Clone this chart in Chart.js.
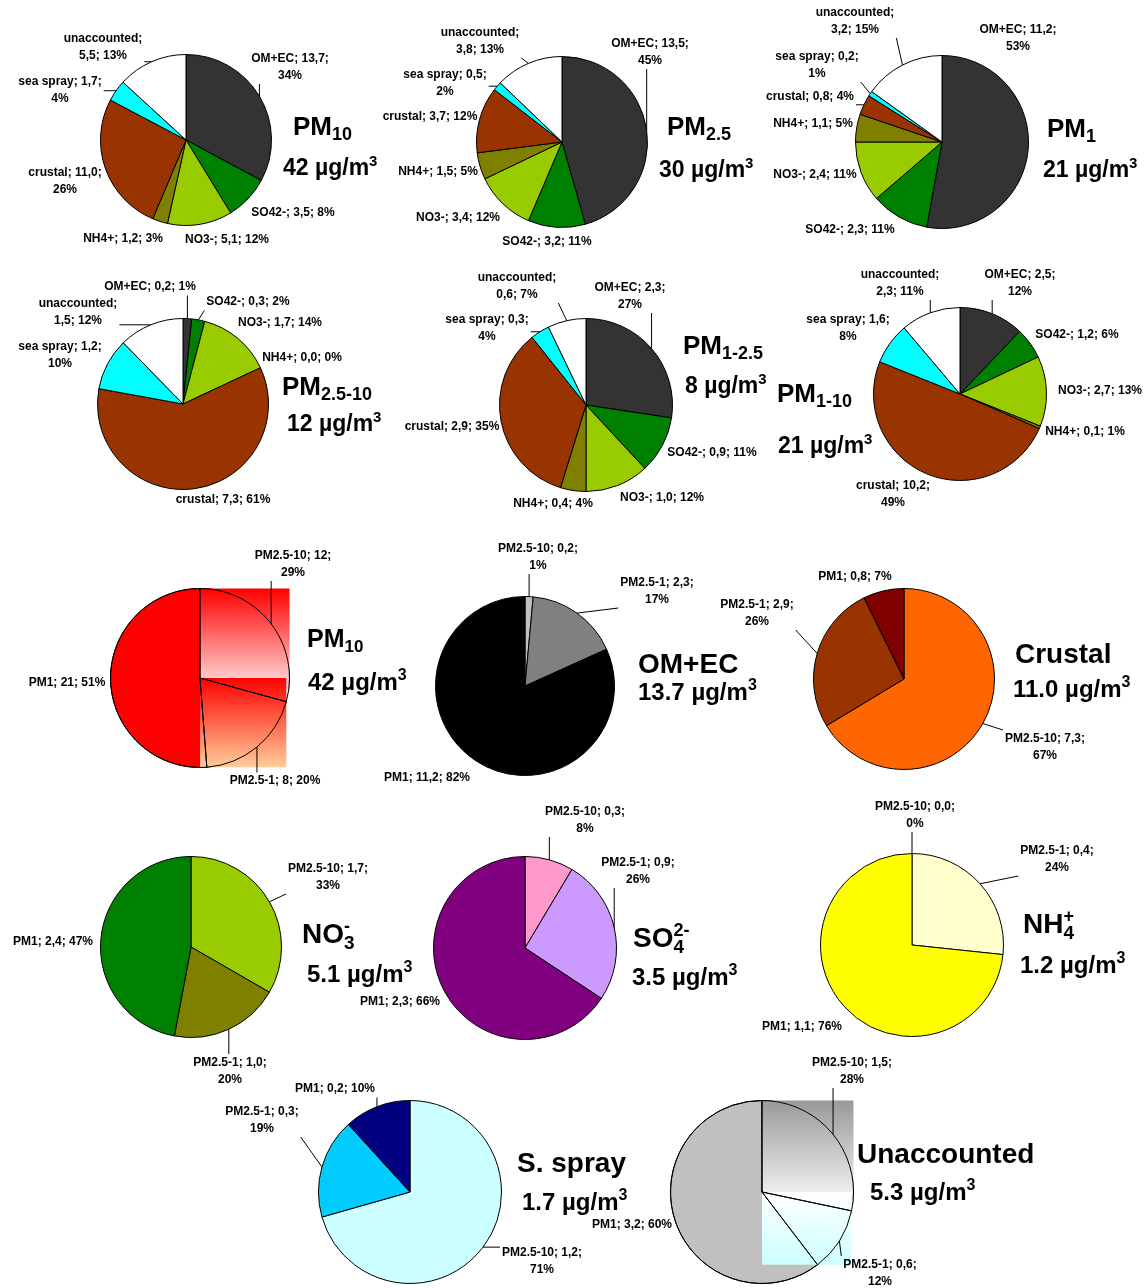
<!DOCTYPE html>
<html>
<head>
<meta charset="utf-8">
<script src="https://cdn.jsdelivr.net/npm/chart.js@4.4.1/dist/chart.umd.min.js"></script>
<style>
  body { margin: 0; background: #fff; }
  #wrap { position: relative; width: 1146px; height: 1288px; overflow: hidden; background: #fff; }
  #wrap canvas { position: absolute; left: 0; top: 0; }
</style>
</head>
<body>
<div id="wrap"></div>
<script>
// chemical composition (µg/m3) per size range
const species = ['OM+EC', 'SO42-', 'NO3-', 'NH4+', 'crustal', 'sea spray', 'unaccounted'];
const pm10 = [13.7, 3.5, 5.1, 1.2, 11.0, 1.7, 5.5];
const pm10Pct = [34, 8, 12, 3, 26, 4, 13];
const pm25 = [13.5, 3.2, 3.4, 1.5, 3.7, 0.5, 3.8];
const pm25Pct = [45, 11, 12, 5, 12, 2, 13];
const pm1 = [11.2, 2.3, 2.4, 1.1, 0.8, 0.2, 3.2];
const pm1Pct = [53, 11, 11, 5, 4, 1, 15];
const pm25to10 = [0.2, 0.3, 1.7, 0.0, 7.3, 1.2, 1.5];
const pm25to10Pct = [1, 2, 14, 0, 61, 10, 12];
const pm1to25 = [2.3, 0.9, 1.0, 0.4, 2.9, 0.3, 0.6];
const pm1to25Pct = [27, 11, 12, 4, 35, 4, 7];
const pm1to10 = [2.5, 1.2, 2.7, 0.1, 10.2, 1.6, 2.3];
const pm1to10Pct = [12, 6, 13, 1, 49, 8, 11];

// size split of each component
const fractions = ['PM2.5-10', 'PM2.5-1', 'PM1'];
const massBySize = [12, 8, 21];
const massBySizePct = [29, 20, 51];
const omecBySize = [0.2, 2.3, 11.2];
const omecBySizePct = [1, 17, 82];
const crustalBySize = [7.3, 2.9, 0.8];
const crustalBySizePct = [67, 26, 7];
const no3BySize = [1.7, 1.0, 2.4];
const no3BySizePct = [33, 20, 47];
const so4BySize = [0.3, 0.9, 2.3];
const so4BySizePct = [8, 26, 66];
const nh4BySize = [0.0, 0.4, 1.1];
const nh4BySizePct = [0, 24, 76];
const seaBySize = [1.2, 0.3, 0.2];
const seaBySizePct = [71, 19, 10];
const unaccBySize = [1.5, 0.6, 3.2];
const unaccBySizePct = [28, 12, 60];

const W = 1146, H = 1288;
const FONT = '"Liberation Sans", Arial, sans-serif';
const speciesColors = ['#333333', '#008000', '#99CC00', '#808000', '#993300', '#00FFFF', '#FFFFFF'];

function fmt(v, dec) {
  return v.toFixed(dec).replace('.', ',');
}

function drawRuns(ctx, runs, x, y, size) {
  let cx = x;
  runs.forEach(r => {
    let fs = size, dy = 0;
    if (r.sub) { fs = Math.round(size * 0.68); dy = size * 0.2; }
    if (r.sup) { fs = Math.round(size * 0.66); dy = -size * 0.4; }
    ctx.font = 'bold ' + fs + 'px ' + FONT;
    ctx.fillText(r.t, cx, y + dy);
    if (!r.stack) cx += ctx.measureText(r.t).width;
  });
}

// bounding box of a pie sector, centre included
function sectorBox(a) {
  const pts = [[a.x, a.y]];
  const add = t => pts.push([a.x + Math.cos(t) * a.outerRadius, a.y + Math.sin(t) * a.outerRadius]);
  add(a.startAngle);
  add(a.endAngle);
  for (let k = -4; k <= 8; k++) {
    const t = k * Math.PI / 2;
    if (t > a.startAngle && t < a.endAngle) add(t);
  }
  const xs = pts.map(p => p[0]), ys = pts.map(p => p[1]);
  return { x0: Math.min(...xs), x1: Math.max(...xs), y0: Math.min(...ys), y1: Math.max(...ys) };
}

// data labels with leader lines, plus the big title next to each pie
const pieLabels = {
  id: 'pieLabels',
  afterDraw(chart, args, opts) {
    const ctx = chart.ctx;
    const arcs = chart.getDatasetMeta(0).data;
    const ds = chart.data.datasets[0];
    ctx.save();
    ctx.fillStyle = '#000';
    ctx.strokeStyle = '#000';
    ctx.lineWidth = 1;
    ctx.font = 'bold 12px ' + FONT;
    ctx.textAlign = 'center';
    ctx.textBaseline = 'middle';
    const lh = 17;
    opts.spots.forEach((s, i) => {
      const [x, y, brk, leader] = s;
      const name = chart.data.labels[i];
      const val = fmt(ds.data[i], opts.decimals);
      const pct = opts.pct[i] + '%';
      let lines;
      if (brk === 0) lines = [name + '; ' + val + '; ' + pct];
      else if (brk === 1) lines = [name + ';', val + '; ' + pct];
      else lines = [name + '; ' + val + ';', pct];
      const w = Math.max(...lines.map(l => ctx.measureText(l).width));
      const h = lines.length * lh;
      if (leader) {
        const a = arcs[i];
        const mid = (a.startAngle + a.endAngle) / 2;
        const px = a.x + Math.cos(mid) * a.outerRadius;
        const py = a.y + Math.sin(mid) * a.outerRadius;
        const bx = Math.min(Math.max(px, x - w / 2 - 2), x + w / 2 + 2);
        const by = Math.min(Math.max(py, y - h / 2), y + h / 2);
        ctx.beginPath();
        ctx.moveTo(px, py);
        ctx.lineTo(bx, by);
        ctx.stroke();
      }
      lines.forEach((l, k) => ctx.fillText(l, x, y - h / 2 + lh / 2 + k * lh));
    });
    ctx.textAlign = 'left';
    ctx.textBaseline = 'alphabetic';
    opts.title.forEach(t => drawRuns(ctx, t.runs, t.x, t.y, t.size));
    ctx.restore();
  }
};

// shaded fill painted over the bounding box of a slice, then outlines on top
const gradientBoxes = {
  id: 'gradientBoxes',
  afterDatasetsDraw(chart, args, opts) {
    if (!opts.boxes) return;
    const arcs = chart.getDatasetMeta(0).data;
    const ctx = chart.ctx;
    ctx.save();
    opts.boxes.forEach(([c0, c1], k) => {
      const b = sectorBox(arcs[k]);
      const g = ctx.createLinearGradient(0, b.y0, 0, b.y1);
      g.addColorStop(0, c0);
      g.addColorStop(1, c1);
      ctx.fillStyle = g;
      ctx.fillRect(b.x0, b.y0, b.x1 - b.x0, b.y1 - b.y0);
    });
    ctx.strokeStyle = '#000';
    ctx.lineWidth = 1;
    arcs.forEach(a => {
      ctx.beginPath();
      ctx.moveTo(a.x, a.y);
      ctx.arc(a.x, a.y, a.outerRadius, a.startAngle, a.endAngle);
      ctx.closePath();
      ctx.stroke();
    });
    ctx.restore();
  }
};

const wrap = document.getElementById('wrap');

function makePie(spec) {
  const cv = document.createElement('canvas');
  cv.width = W;
  cv.height = H;
  wrap.appendChild(cv);
  const [cx, cy, r] = spec.pie;
  new Chart(cv, {
    type: 'pie',
    data: {
      labels: spec.labels,
      datasets: [{
        data: spec.values,
        backgroundColor: spec.colors,
        borderColor: '#000000',
        borderWidth: 1
      }]
    },
    options: {
      responsive: false,
      animation: false,
      events: [],
      layout: { padding: { left: cx - r, right: W - cx - r, top: cy - r, bottom: H - cy - r } },
      plugins: {
        legend: { display: false },
        tooltip: { enabled: false },
        pieLabels: { spots: spec.spots, pct: spec.pct, decimals: spec.decimals ?? 1, title: spec.title },
        gradientBoxes: { boxes: spec.boxes }
      }
    },
    plugins: [gradientBoxes, pieLabels]
  });
}

const ug = v => [{ t: v + ' µg/m' }, { t: '3', sup: true }];

makePie({
  pie: [186, 140, 86], labels: species, values: pm10, pct: pm10Pct, colors: speciesColors,
  spots: [[290, 67, 2, 1], [293, 213, 0, 0], [227, 240, 0, 0], [123, 239, 0, 0], [65, 181, 2, 0], [60, 90, 2, 1], [103, 47, 1, 1]],
  title: [{ runs: [{ t: 'PM' }, { t: '10', sub: true }], x: 293, y: 135, size: 26 },
          { runs: ug('42'), x: 283, y: 175, size: 23 }]
});
makePie({
  pie: [562, 142, 86], labels: species, values: pm25, pct: pm25Pct, colors: speciesColors,
  spots: [[650, 52, 2, 1], [547, 242, 0, 0], [458, 218, 0, 0], [438, 172, 0, 0], [430, 117, 0, 0], [445, 83, 2, 1], [480, 41, 1, 1]],
  title: [{ runs: [{ t: 'PM' }, { t: '2.5', sub: true }], x: 667, y: 135, size: 26 },
          { runs: ug('30'), x: 659, y: 177, size: 23 }]
});
makePie({
  pie: [942, 142, 87], labels: species, values: pm1, pct: pm1Pct, colors: speciesColors,
  spots: [[1018, 38, 2, 0], [850, 230, 0, 0], [815, 175, 0, 0], [813, 124, 0, 0], [810, 97, 0, 1], [817, 65, 2, 1], [855, 21, 1, 1]],
  title: [{ runs: [{ t: 'PM' }, { t: '1', sub: true }], x: 1047, y: 137, size: 26 },
          { runs: ug('21'), x: 1043, y: 177, size: 23 }]
});
makePie({
  pie: [183, 404, 86], labels: species, values: pm25to10, pct: pm25to10Pct, colors: speciesColors,
  spots: [[150, 287, 0, 1], [248, 302, 0, 1], [280, 323, 0, 0], [302, 358, 0, 0], [223, 500, 0, 0], [60, 355, 2, 0], [78, 312, 1, 1]],
  title: [{ runs: [{ t: 'PM' }, { t: '2.5-10', sub: true }], x: 282, y: 395, size: 26 },
          { runs: ug('12'), x: 287, y: 431, size: 23 }]
});
makePie({
  pie: [586, 405, 87], labels: species, values: pm1to25, pct: pm1to25Pct, colors: speciesColors,
  spots: [[630, 296, 2, 1], [712, 453, 0, 0], [662, 498, 0, 0], [553, 504, 0, 0], [452, 427, 0, 0], [487, 328, 2, 1], [517, 286, 1, 1]],
  title: [{ runs: [{ t: 'PM' }, { t: '1-2.5', sub: true }], x: 683, y: 354, size: 26 },
          { runs: ug('8'), x: 685, y: 393, size: 23 }]
});
makePie({
  pie: [960, 394, 87], labels: species, values: pm1to10, pct: pm1to10Pct, colors: speciesColors,
  spots: [[1020, 283, 2, 1], [1077, 335, 0, 0], [1100, 391, 0, 0], [1085, 432, 0, 0], [893, 494, 2, 0], [848, 328, 2, 0], [900, 283, 1, 1]],
  title: [{ runs: [{ t: 'PM' }, { t: '1-10', sub: true }], x: 777, y: 402, size: 26 },
          { runs: ug('21'), x: 778, y: 453, size: 23 }]
});

makePie({
  pie: [200, 678, 90], labels: fractions, values: massBySize, pct: massBySizePct, decimals: 0,
  colors: ['#FF9999', '#FF9966', '#FF0000'],
  boxes: [['#FF0000', '#FFFFFF'], ['#FF0000', '#FFCC99']],
  spots: [[293, 564, 2, 1], [275, 781, 0, 1], [67, 683, 0, 0]],
  title: [{ runs: [{ t: 'PM' }, { t: '10', sub: true }], x: 307, y: 647, size: 25 },
          { runs: ug('42'), x: 308, y: 690, size: 24 }]
});
makePie({
  pie: [525, 686, 90], labels: fractions, values: omecBySize, pct: omecBySizePct,
  colors: ['#C0C0C0', '#808080', '#000000'],
  spots: [[538, 557, 2, 1], [657, 591, 2, 1], [427, 778, 0, 0]],
  title: [{ runs: [{ t: 'OM+EC' }], x: 638, y: 673, size: 28 },
          { runs: ug('13.7'), x: 638, y: 700, size: 24 }]
});
makePie({
  pie: [904, 679, 91], labels: fractions, values: crustalBySize, pct: crustalBySizePct,
  colors: ['#FF6600', '#993300', '#800000'],
  spots: [[1045, 747, 2, 1], [757, 613, 2, 1], [855, 577, 0, 0]],
  title: [{ runs: [{ t: 'Crustal' }], x: 1015, y: 663, size: 28 },
          { runs: ug('11.0'), x: 1013, y: 697, size: 24 }]
});

makePie({
  pie: [191, 947, 91], labels: fractions, values: no3BySize, pct: no3BySizePct,
  colors: ['#99CC00', '#808000', '#008000'],
  spots: [[328, 877, 2, 1], [230, 1071, 2, 1], [53, 942, 0, 0]],
  title: [{ runs: [{ t: 'NO' }, { t: '3', sub: true, stack: true }, { t: '-', sup: true }], x: 302, y: 943, size: 28 },
          { runs: ug('5.1'), x: 307, y: 982, size: 24 }]
});
makePie({
  pie: [525, 948, 92], labels: fractions, values: so4BySize, pct: so4BySizePct,
  colors: ['#FF99CC', '#CC99FF', '#800080'],
  spots: [[585, 820, 2, 1], [638, 871, 2, 1], [400, 1002, 0, 0]],
  title: [{ runs: [{ t: 'SO' }, { t: '4', sub: true, stack: true }, { t: '2-', sup: true }], x: 633, y: 947, size: 28 },
          { runs: ug('3.5'), x: 632, y: 985, size: 24 }]
});
makePie({
  pie: [912, 945, 92], labels: fractions, values: nh4BySize, pct: nh4BySizePct,
  colors: ['#FFFFCC', '#FFFFCC', '#FFFF00'],
  spots: [[915, 815, 2, 1], [1057, 859, 2, 1], [802, 1027, 0, 0]],
  title: [{ runs: [{ t: 'NH' }, { t: '4', sub: true, stack: true }, { t: '+', sup: true }], x: 1023, y: 933, size: 28 },
          { runs: ug('1.2'), x: 1020, y: 973, size: 24 }]
});

makePie({
  pie: [410, 1192, 92], labels: fractions, values: seaBySize, pct: seaBySizePct,
  colors: ['#CCFFFF', '#00CCFF', '#000080'],
  spots: [[542, 1261, 2, 1], [262, 1120, 2, 1], [335, 1089, 0, 1]],
  title: [{ runs: [{ t: 'S. spray' }], x: 517, y: 1172, size: 28 },
          { runs: ug('1.7'), x: 522, y: 1210, size: 24 }]
});
makePie({
  pie: [762, 1192, 92], labels: fractions, values: unaccBySize, pct: unaccBySizePct,
  colors: ['#DDDDDD', '#E6FFFF', '#C0C0C0'],
  boxes: [['#999999', '#FFFFFF'], ['#FFFFFF', '#CCFFFF']],
  spots: [[852, 1071, 2, 1], [880, 1273, 2, 1], [632, 1225, 0, 0]],
  title: [{ runs: [{ t: 'Unaccounted' }], x: 857, y: 1163, size: 28 },
          { runs: ug('5.3'), x: 870, y: 1200, size: 24 }]
});
</script>
</body>
</html>
